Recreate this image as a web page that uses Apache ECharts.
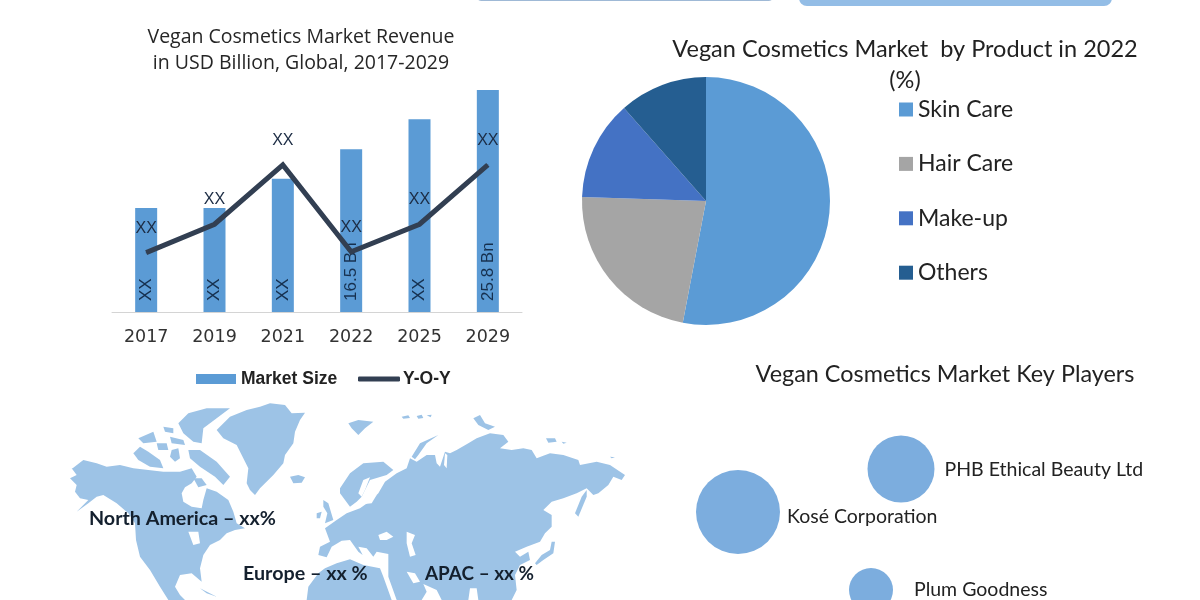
<!DOCTYPE html>
<html>
<head>
<meta charset="utf-8">
<title>Vegan Cosmetics Market</title>
<script src="https://cdn.jsdelivr.net/npm/echarts@6/dist/echarts.min.js"></script>
<style>
  html, body { margin: 0; padding: 0; background: #fff; }
  #chart { width: 1200px; height: 600px; overflow: hidden; }
</style>
</head>
<body>
<div id="chart"></div>
<script>
// revenue chart
var years = ['2017', '2019', '2021', '2022', '2025', '2029'];
var marketSize = [12.1, 12.1, 15.5, 18.9, 22.4, 25.8];
var marketLabels = ['XX', 'XX', 'XX', '16.5 Bn', 'XX', '25.8 Bn'];
var yoy = [6.9, 10.2, 17.1, 7.0, 10.2, 17.1];
var yoyLabels = ['XX', 'XX', 'XX', 'XX', 'XX', 'XX'];

// product share
var products = ['Skin Care', 'Hair Care', 'Make-up', 'Others'];
var productShare = [53, 22.5, 13, 11.5];
var productColors = ['#5b9bd5', '#a5a5a5', '#4472c4', '#255e91'];

// key players, on a made up 48 x 18 plane
var players = ['Kosé Corporation', 'PHB Ethical Beauty Ltd', 'Plum Goodness'];
var playerX = [5.8, 22.1, 19.1];
var playerY = [8.8, 13.1, 1.0];
var playerSize = [84, 67, 44];
var playerLabelGap = [7, 10, 21];
var playerLabelDrop = [5, 1, 0];

// regions written over the map
var regionLabels = ['North America – xx%', 'Europe – xx %', 'APAC – xx %'];

// world map outline, traced by hand. units are 1/3 px from the map corner
var landOutlines = [
  // north america
  [38,205,70,180,110,190,140,200,180,195,220,205,265,210,310,215,360,215,395,205,410,230,395,250,375,262,365,280,370,305,395,320,425,325,430,300,440,265,470,275,505,300,520,335,530,370,555,385,525,390,500,400,480,420,450,435,430,465,420,505,425,545,395,520,360,525,345,560,360,585,375,600,325,600,300,560,270,510,240,470,228,420,225,370,205,340,170,310,130,285,110,290,85,310,50,335,85,300,60,295,45,275,50,255,30,235,50,225,35,205],
  // canadian arctic
  [385,150,420,150,470,185,510,230,490,255,465,230,420,200,390,175],
  [220,160,240,140,265,155,300,180,310,205,270,200,235,180],
  [335,150,355,145,360,175,345,185,330,170],
  [355,70,385,40,440,25,510,25,470,55,430,85,425,130,400,125,370,100],
  [235,115,280,95,290,125,250,130],
  [310,80,340,85,340,100,315,95],
  [330,110,370,120,375,135,335,130],
  [400,235,425,235,440,255,415,262],
  [290,130,320,130,325,150,295,150],
  // cuba
  [420,565,470,590,440,580],
  // greenland, iceland, svalbard
  [470,90,510,50,560,30,600,20,630,10,675,15,695,40,735,38,720,60,705,95,700,130,675,165,670,190,640,225,600,265,585,285,570,270,560,250,565,205,530,135,490,115],
  [690,230,715,225,735,232,725,248,700,250],
  [865,70,895,60,940,65,915,85,895,105,875,85],
  [1025,50,1045,46,1050,54,1030,56],
  [1070,48,1085,44,1090,54,1075,56],
  [1100,46,1115,44,1112,52],
  // novaya zemlya
  [1055,170,1080,130,1135,105,1100,130,1075,165,1065,178],
  // uk, ireland
  [790,300,805,310,820,360,795,370,802,340,790,320],
  [770,340,785,335,780,355,770,355],
  // scandinavia
  [840,265,870,220,910,190,970,185,1000,210,980,225,930,240,905,290,890,305,870,320,855,300,840,280],
  // eurasia
  [775,465,780,440,810,425,795,385,830,360,860,340,900,325,935,300,955,280,975,245,1010,220,1040,205,1050,175,1070,185,1100,165,1125,165,1130,190,1140,200,1155,155,1170,160,1190,150,1225,130,1250,115,1290,100,1330,105,1345,125,1320,145,1355,150,1390,145,1415,150,1430,175,1470,160,1510,165,1555,180,1560,195,1610,185,1650,195,1695,225,1685,240,1660,230,1645,255,1615,280,1600,285,1580,265,1550,280,1510,295,1475,305,1450,330,1475,345,1475,380,1455,400,1440,425,1400,440,1365,455,1380,470,1405,455,1410,480,1380,495,1365,525,1370,570,1355,600,1255,600,1250,565,1230,565,1225,600,1145,600,1130,570,1090,552,1100,575,1085,600,1010,600,985,530,985,485,985,462,950,455,940,470,920,445,895,440,908,465,895,455,870,420,845,422,815,440,800,472],
  // africa
  [740,600,745,560,775,520,795,505,830,490,870,478,910,495,960,505,970,530,995,600],
  // sakhalin, japan, russian arctic islands
  [1545,340,1565,290,1580,270,1580,290,1555,350],
  [1425,490,1445,465,1470,450,1475,425,1485,425,1480,460,1450,480,1430,495],
  [1240,55,1260,45,1275,70,1305,80,1285,90,1255,75],
  [1458,115,1485,115,1490,125,1465,128],
  [1505,125,1520,128,1510,131],
  [1650,170,1665,172,1655,175]
];
var seaOutlines = [
  [385,395,415,395,420,430,400,435],            // great lakes
  [910,240,930,232,915,270,905,290,895,280],    // bothnia
  [915,295,950,285,935,310,915,312],            // baltic
  [955,405,980,395,1000,410,980,420,960,420],   // black sea
  [1040,395,1065,405,1055,430,1067,465,1050,470,1040,430], // caspian
  [1040,515,1065,520,1080,545,1060,550],        // persian gulf
  [1155,160,1162,165,1160,205,1152,195]         // ob gulf
];

var chart = echarts.init(document.getElementById('chart'));

function outlineGraphic(points, fill) {
  var pts = [];
  for (var i = 0; i < points.length; i += 2) {
    pts.push([points[i], points[i + 1]]);
  }
  return { type: 'polygon', shape: { points: pts }, style: { fill: fill }, silent: true };
}

function regionText(text, x, y, size) {
  return {
    type: 'text', x: x, y: y, z: 10, silent: true,
    style: { text: text, font: 'bold ' + size + 'px Lato', fill: '#14202e', verticalAlign: 'middle' }
  };
}

var mapParts = landOutlines.map(function (p) { return outlineGraphic(p, '#9dc3e6'); })
  .concat(seaOutlines.map(function (p) { return outlineGraphic(p, '#ffffff'); }));

var calibriFont = { fontFamily: 'Lato', fontWeight: 'normal', color: '#222' };
var legendText = { fontFamily: 'Liberation Sans', fontWeight: 'bold', fontSize: 17.5, color: '#222' };

var option = {
  animation: false,
  backgroundColor: '#fff',
  title: [
    { text: 'Vegan Cosmetics Market Revenue\nin USD Billion, Global, 2017-2029', left: 301, top: 24, textAlign: 'center', padding: 0,
      textStyle: { fontFamily: 'Open Sans', fontWeight: 'normal', color: '#262626', fontSize: 19.5, lineHeight: 26 } },
    { text: 'Vegan Cosmetics Market  by Product in 2022\n(%)', left: 905, top: 34, textAlign: 'center', padding: 0,
      textStyle: Object.assign({ fontSize: 23.5, lineHeight: 31 }, calibriFont) },
    { text: 'Vegan Cosmetics Market Key Players', left: 945, top: 361, textAlign: 'center', padding: 0,
      textStyle: Object.assign({ fontSize: 23.4, lineHeight: 26 }, calibriFont) }
  ],
  legend: [
    { left: 196, top: 370, padding: 0, itemWidth: 40, itemHeight: 10, selectedMode: false,
      data: [{ name: 'Market Size', icon: 'rect' }], textStyle: legendText },
    { left: 358, top: 370, padding: 0, itemWidth: 42, itemHeight: 5, selectedMode: false,
      data: [{ name: 'Y-O-Y', icon: 'roundRect' }],
      textStyle: Object.assign({ padding: [0, 0, 0, -2] }, legendText) },
    { left: 899, top: 98, padding: 0, orient: 'vertical', itemWidth: 14, itemHeight: 14, itemGap: 31.4, icon: 'rect', selectedMode: false,
      data: products,
      textStyle: { fontFamily: 'Lato', fontSize: 23, lineHeight: 21, color: '#222' } }
  ],
  grid: [
    { left: 112, top: 90, width: 410, height: 222 },
    { left: 680, top: 420, width: 480, height: 180 }
  ],
  xAxis: [
    { type: 'category', gridIndex: 0, data: years, axisTick: { show: false },
      axisLine: { lineStyle: { color: '#d4d4d4', width: 1 } },
      axisLabel: { fontFamily: 'DejaVu Sans', fontSize: 17.5, color: '#333', margin: 16 } },
    { type: 'value', gridIndex: 1, min: 0, max: 48, show: false }
  ],
  yAxis: [
    { type: 'value', gridIndex: 0, min: 0, max: 25.8, show: false },
    { type: 'value', gridIndex: 1, min: 0, max: 18, show: false }
  ],
  series: [
    { name: 'Market Size', type: 'bar', xAxisIndex: 0, yAxisIndex: 0, barWidth: 22,
      data: marketSize, itemStyle: { color: '#5b9bd5' },
      label: { show: true, position: 'insideBottom', rotate: 90, align: 'left', verticalAlign: 'middle', distance: 11,
        fontFamily: 'Liberation Sans', fontSize: 17, color: '#16304f',
        formatter: function (p) { return marketLabels[p.dataIndex]; } } },
    { name: 'Y-O-Y', type: 'line', xAxisIndex: 0, yAxisIndex: 0, data: yoy,
      symbol: 'circle', symbolSize: 1, showAllSymbol: true,
      lineStyle: { color: '#323f52', width: 5, join: 'miter' }, itemStyle: { color: '#323f52' },
      label: { show: true, position: 'top', distance: 16,
        fontFamily: 'Liberation Sans', fontSize: 16, color: '#1c2c44',
        formatter: function (p) { return yoyLabels[p.dataIndex]; } } },
    { type: 'pie', center: [706, 201], radius: [0, 124], startAngle: 90, clockwise: true,
      label: { show: false }, labelLine: { show: false }, silent: true,
      data: products.map(function (name, i) {
        return { name: name, value: productShare[i], itemStyle: { color: productColors[i] } };
      }) },
    { type: 'scatter', xAxisIndex: 1, yAxisIndex: 1, clip: false, silent: true,
      data: players.map(function (name, i) {
        return { name: name, value: [playerX[i], playerY[i]], symbolSize: playerSize[i],
          label: { distance: playerLabelGap[i], offset: [0, playerLabelDrop[i]] } };
      }),
      itemStyle: { color: '#7cadde', opacity: 1 },
      label: { show: true, position: 'right', formatter: '{b}', fontFamily: 'Lato', fontSize: 19.5, color: '#222' } }
  ],
  graphic: [
    { type: 'rect', shape: { x: 476, y: -10, width: 298, height: 11, r: 6 }, style: { fill: '#9fb9d6' }, silent: true },
    { type: 'rect', shape: { x: 799, y: -10, width: 313, height: 16, r: 8 }, style: { fill: '#93bde6' }, silent: true },
    { type: 'group', x: 60, y: 400, scaleX: 1 / 3, scaleY: 1 / 3, children: mapParts },
    regionText(regionLabels[0], 89, 519, 19.7),
    regionText(regionLabels[1], 243, 574, 19.7),
    regionText(regionLabels[2], 425, 574, 18.9)
  ]
};

chart.setOption(option);
</script>
</body>
</html>
